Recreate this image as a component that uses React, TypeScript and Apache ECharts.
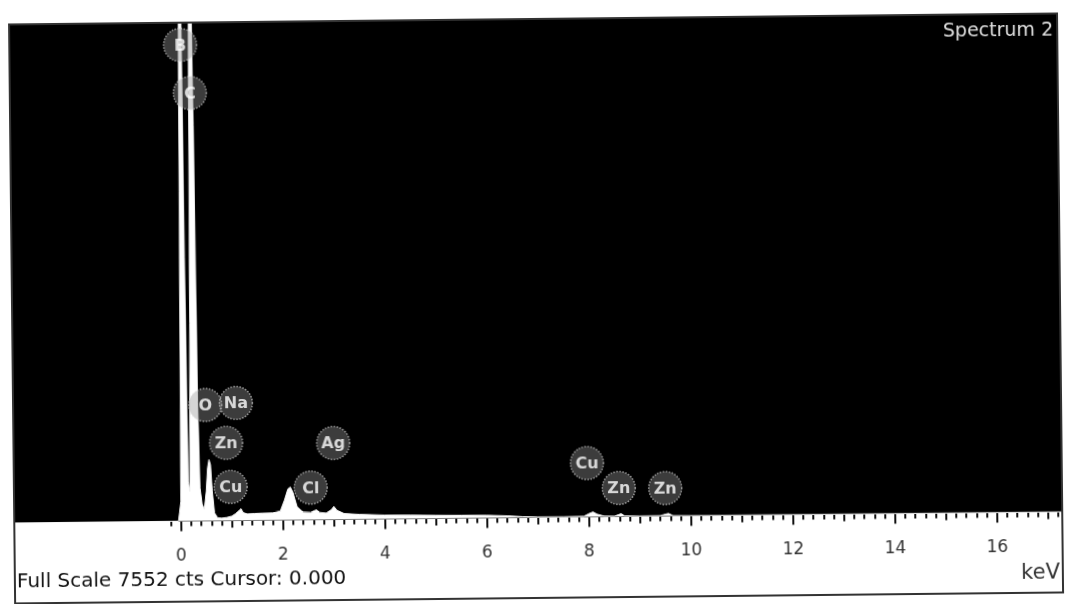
import React, { useEffect, useRef } from "react";
import * as echarts from "echarts";

// x range of the plot (keV) and full scale (counts)
const X_MIN = -3.27;
const X_MAX = 17.28;
const FULL_SCALE = 7552;

// tick labels (keV)
const majorTicks = [0, 2, 4, 6, 8, 10, 12, 14, 16];
const midTicks = [1, 3, 5, 7, 9, 11, 13, 15, 17];

// spectrum: energy (keV) and counts
const energy = [
  -3.27, -0.05, 0.0, 0.03, 0.06, 0.09, 0.12, 0.15, 0.18, 0.21, 0.25, 0.29, 0.32, 0.35, 0.38,
  0.42, 0.46, 0.5, 0.53, 0.56, 0.59, 0.62, 0.66, 0.72, 0.8, 0.9, 1.0, 1.08, 1.15, 1.18, 1.22,
  1.3, 1.45, 1.6, 1.8, 1.95, 2.03, 2.1, 2.15, 2.2, 2.28, 2.4, 2.55, 2.62, 2.66, 2.72, 2.85,
  2.95, 3.0, 3.06, 3.2, 3.5, 4.0, 4.5, 5.0, 5.5, 6.0, 6.4, 6.7, 7.0, 7.5, 7.9, 8.0, 8.08,
  8.16, 8.3, 8.5, 8.58, 8.63, 8.7, 9.0, 9.4, 9.5, 9.56, 9.65, 10.0, 12.0, 14.0, 17.28,
];
const counts = [
  0, 0, 300, 5000, 9500, 9500, 4000, 600, 450, 3000, 8600, 8800, 6000, 1800, 500,
  250, 180, 450, 800, 930, 850, 450, 120, 45, 40, 50, 70, 110, 160, 180, 120,
  100, 105, 110, 115, 140, 300, 470, 500, 420, 200, 115, 110, 140, 150, 110, 100,
  150, 200, 140, 90, 75, 60, 55, 50, 45, 40, 30, 15, 8, 6, 10, 50, 75,
  40, 10, 8, 30, 45, 10, 6, 8, 30, 40, 6, 4, 3, 2, 2,
];

// element markers
const elementNames = ["B", "C", "O", "Na", "Zn", "Cu", "Ag", "Cl", "Cu", "Zn", "Zn"];
const elementKeV = [0.08, 0.26, 0.5, 1.1, 0.9, 0.98, 3.0, 2.55, 7.97, 8.59, 9.5];
const elementCounts = [7214, 6485, 1756, 1782, 1179, 510, 1160, 488, 816, 433, 425];

const FONT = "DejaVu Sans, Verdana, sans-serif";

export default function App() {
  const ref = useRef<HTMLDivElement>(null);

  useEffect(() => {
    if (!ref.current) return;
    const chart = echarts.init(ref.current, null, { renderer: "svg" });

    const minorTicks: number[] = [];
    for (let i = -1; i <= 86; i++) {
      const v = Math.round(i * 0.2 * 10) / 10;
      if (Math.abs(v - Math.round(v)) > 1e-6) minorTicks.push(v);
    }

    const baseAxis = {
      type: "value",
      min: X_MIN,
      max: X_MAX,
      position: "bottom",
      splitLine: { show: false },
    };

    chart.setOption({
      animation: false,
      backgroundColor: "#fff",
      grid: {
        left: 12,
        right: 5,
        top: 19,
        bottom: 86.5,
        show: true,
        backgroundColor: "#000",
        borderWidth: 0,
      },
      xAxis: [
        {
          ...baseAxis,
          axisLine: { show: true, lineStyle: { color: "#000", width: 1 } },
          axisTick: {
            show: true,
            customValues: majorTicks,
            length: 10,
            lineStyle: { color: "#111", width: 2 },
          },
          axisLabel: {
            show: true,
            customValues: majorTicks,
            fontSize: 17,
            color: "#333",
            fontFamily: FONT,
            margin: 25,
          },
        },
        {
          ...baseAxis,
          axisLine: { show: false },
          axisTick: {
            show: true,
            customValues: midTicks,
            length: 7,
            lineStyle: { color: "#111", width: 2 },
          },
          axisLabel: { show: false },
        },
        {
          ...baseAxis,
          axisLine: { show: false },
          axisTick: {
            show: true,
            customValues: minorTicks,
            length: 5,
            lineStyle: { color: "#111", width: 2 },
          },
          axisLabel: { show: false },
        },
      ],
      yAxis: {
        type: "value",
        min: 0,
        max: FULL_SCALE,
        show: false,
        splitLine: { show: false },
      },
      series: [
        {
          type: "line",
          xAxisIndex: 0,
          data: energy.map((e, i) => [e, counts[i]]),
          showSymbol: false,
          clip: true,
          lineStyle: { color: "#f4f4f4", width: 1 },
          areaStyle: { color: "#ffffff", opacity: 1 },
          z: 2,
        },
        {
          type: "scatter",
          xAxisIndex: 0,
          data: elementNames.map((n, i) => ({ name: n, value: [elementKeV[i], elementCounts[i]] })),
          symbol: "circle",
          symbolSize: 33,
          itemStyle: {
            color: "rgba(150,150,150,0.5)",
            borderColor: "rgba(220,220,220,0.8)",
            borderWidth: 1.5,
            borderType: "dotted",
          },
          label: {
            show: true,
            position: "inside",
            formatter: "{b}",
            color: "#fff",
            fontSize: 16,
            fontWeight: "bold",
            fontFamily: FONT,
          },
          z: 5,
        },
      ],
      graphic: [
        {
          type: "rect",
          shape: { x: 12, y: 19, width: 1048, height: 579 },
          style: { fill: "none", stroke: "#333", lineWidth: 2 },
          z: 10,
          silent: true,
        },
        {
          type: "text",
          x: 1056,
          y: 34,
          style: {
            text: "Spectrum 2",
            fill: "#e0e0e0",
            font: `19px ${FONT}`,
            align: "right",
            verticalAlign: "middle",
          },
          z: 10,
        },
        {
          type: "text",
          x: 14,
          y: 575,
          style: {
            text: "Full Scale 7552 cts Cursor: 0.000",
            fill: "#111",
            font: `20px ${FONT}`,
            align: "left",
            verticalAlign: "middle",
          },
          z: 10,
        },
        {
          type: "text",
          x: 1057,
          y: 577,
          style: {
            text: "keV",
            fill: "#333",
            font: `21px ${FONT}`,
            align: "right",
            verticalAlign: "middle",
          },
          z: 10,
        },
      ],
    });

    return () => chart.dispose();
  }, []);

  return (
    <div
      ref={ref}
      style={{
        position: "fixed",
        left: 0,
        top: 0,
        width: 1065,
        height: 604,
        transform: "rotate(-0.6deg)",
        background: "#fff",
      }}
    />
  );
}
